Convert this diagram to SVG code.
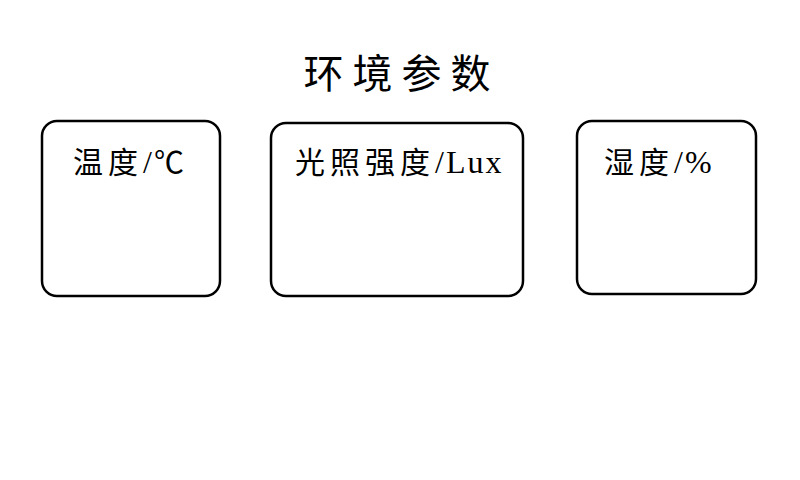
<svg xmlns="http://www.w3.org/2000/svg" width="800" height="480" viewBox="0 0 800 480">
<style>
.box{fill:#fff;stroke:#000;stroke-width:2.5}
.lbl{font-family:"Liberation Serif","Noto Sans CJK SC",serif;font-size:30px;letter-spacing:5px;fill:#000}
.lat{font-size:32px;letter-spacing:2px}
.title{font-family:"Liberation Serif","Noto Sans CJK SC",serif;font-size:40px;fill:#000}
</style>
<rect width="800" height="480" fill="#fff"/>
<text class="title" x="397" y="88" text-anchor="middle" textLength="187" lengthAdjust="spacing">环境参数</text>
<g id="node-temp">
<rect class="box" x="42" y="121" width="178" height="175" rx="15"/>
<text class="lbl" x="73" y="173">温度<tspan class="lat">/</tspan>℃</text>
</g>
<g id="node-light">
<rect class="box" x="271" y="123" width="252" height="173" rx="15"/>
<text class="lbl" x="295" y="173">光照强度<tspan class="lat">/Lux</tspan></text>
</g>
<g id="node-humid">
<rect class="box" x="577" y="121" width="179" height="173" rx="15"/>
<text class="lbl" x="604" y="173">湿度<tspan class="lat">/%</tspan></text>
</g>
<g id="connectors"></g>
</svg>
